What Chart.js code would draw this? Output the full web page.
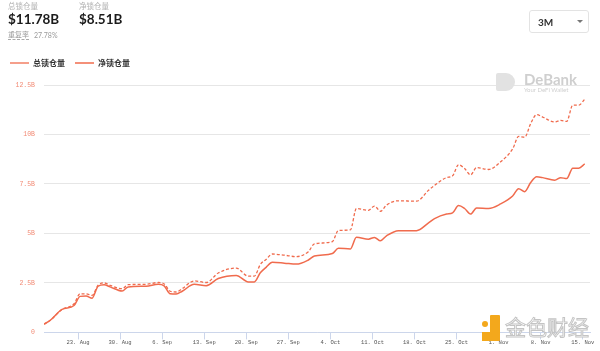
<!DOCTYPE html>
<html>
<head>
<meta charset="utf-8">
<script src="https://cdn.jsdelivr.net/npm/chart.js@4/dist/chart.umd.min.js"></script>
<style>
  html, body { margin: 0; padding: 0; background: #fff; }
  body { width: 600px; height: 351px; position: relative; overflow: hidden; font-family: Lato, "Noto Sans CJK SC", sans-serif; }
  #wrap { position: absolute; left: 0; top: 0; width: 600px; height: 351px; }
  .lbl { position: absolute; font-family: "Noto Sans CJK SC", sans-serif; font-size: 7.5px; color: #b0b0b0; line-height: 1; }
  .val { position: absolute; font-family: Lato, sans-serif; font-weight: 700; font-size: 13.5px; color: #1b1b1b; line-height: 1; }
  .small { position: absolute; font-size: 7px; color: #9a9a9a; line-height: 1; }
  #dd { position: absolute; left: 529px; top: 10px; width: 60px; height: 23px; border: 1px solid #e3e3e3; border-radius: 3px; box-sizing: border-box; }
  #dd span.t { position: absolute; left: 8px; top: 5px; font-family: Lato, sans-serif; font-weight: 700; font-size: 10px; color: #333; }
  #dd span.c { position: absolute; left: 47px; top: 9px; width: 0; height: 0; border-left: 3px solid transparent; border-right: 3px solid transparent; border-top: 3px solid #777; }
  #debank { position: absolute; left: 496px; top: 72px; width: 95px; height: 24px; }
  #debank .icon { position: absolute; left: 0; top: 1px; width: 19px; height: 18px; background: #e2e2e2; border-radius: 2px 9px 9px 2px; }
  #debank .name { position: absolute; left: 28px; top: 0; font-family: Lato, sans-serif; font-weight: 700; font-size: 15px; color: #cfcfcf; line-height: 1; }
  #debank .sub { position: absolute; left: 28px; top: 15px; font-family: Lato, sans-serif; font-size: 6px; color: #cfcfcf; line-height: 1; }
  #jinse { position: absolute; left: 482px; top: 313px; width: 115px; height: 34px; }
  #jinse .i1 { position: absolute; left: 8px; top: 2px; width: 10px; height: 26px; background: #f3a81c; border-radius: 1px; }
  #jinse .i2 { position: absolute; left: 0px; top: 19px; width: 12px; height: 9px; background: #f3a81c; }
  #jinse .i3 { position: absolute; left: 0px; top: 8px; width: 6px; height: 6px; background: #f3a81c; border-radius: 50%; }
  #jinse .tx { position: absolute; left: 23px; top: 3px; font-family: "Noto Sans CJK SC", sans-serif; font-size: 21px; color: rgba(255,255,255,0.85); -webkit-text-stroke: 1px #c4c4c4; line-height: 1; }
</style>
</head>
<body>
<div id="wrap"><canvas id="c" width="600" height="351"></canvas></div>

<div class="lbl" style="left:8px;top:2px;">总锁仓量</div>
<div class="val" style="left:8px;top:13px;" id="v1"></div>
<div class="lbl" style="left:79px;top:2px;">净锁仓量</div>
<div class="val" style="left:79px;top:13px;" id="v2"></div>
<div class="small" style="left:8px;top:31px;font-family:'Noto Sans CJK SC',sans-serif;border-bottom:1px dashed #aaa;padding-bottom:1px;">重复率</div>
<div class="small" style="left:34px;top:32px;font-family:Lato,sans-serif;" id="v3"></div>

<div id="dd"><span class="t">3M</span><span class="c"></span></div>

<div id="debank"><div class="icon"></div><div class="name">DeBank</div><div class="sub">Your DeFi Wallet</div></div>
<div id="jinse"><div class="i1"></div><div class="i2"></div><div class="i3"></div><div class="tx">金色财经</div></div>

<script>
// ---- data (billions USD) ----
const dates = ['08-17','08-18','08-20','08-22','08-23','08-24','08-25','08-26','08-27','08-28','08-30','08-31',
  '09-03','09-05','09-06','09-07','09-08','09-09','09-11','09-13','09-15','09-18','09-20','09-21','09-22','09-23','09-24','09-26','09-28','09-30',
  '10-01','10-04','10-05','10-07','10-08','10-10','10-11','10-12','10-13','10-15','10-18','10-20','10-21','10-23','10-24','10-25','10-26','10-27','10-28','10-30',
  '11-01','11-03','11-04','11-05','11-06','11-07','11-08','11-10','11-11','11-12','11-13','11-14','11-15'];
const totalLocked = [0.42,0.60,1.16,1.45,1.95,1.95,1.87,2.38,2.50,2.38,2.21,2.41,
  2.43,2.52,2.45,2.08,2.04,2.21,2.60,2.52,3.00,3.25,2.84,2.84,3.43,3.70,3.96,3.90,3.83,4.08,
  4.47,4.59,5.15,5.18,6.26,6.17,6.38,6.12,6.43,6.65,6.63,7.18,7.43,7.82,7.91,8.47,8.28,7.96,8.33,8.23,
  8.62,9.27,9.90,9.86,10.55,11.00,10.88,10.63,10.71,10.66,11.48,11.48,11.78];
const netLocked = [0.42,0.60,1.16,1.36,1.82,1.84,1.73,2.33,2.41,2.30,2.09,2.30,
  2.33,2.43,2.35,1.95,1.94,2.08,2.43,2.36,2.72,2.88,2.55,2.55,3.01,3.30,3.54,3.50,3.45,3.66,
  3.86,3.99,4.25,4.22,4.81,4.71,4.80,4.63,4.88,5.14,5.14,5.53,5.75,5.98,6.04,6.41,6.26,5.98,6.29,6.26,
  6.49,6.89,7.26,7.11,7.57,7.86,7.82,7.69,7.82,7.77,8.30,8.30,8.51];
const seriesNames = ['总锁仓量', '净锁仓量'];
const year = 2021;
const xTickDates = ['08-23','08-30','09-06','09-13','09-20','09-27','10-04','10-11','10-18','10-25','11-01','11-08','11-15'];
const yTicks = [0, 2.5, 5, 7.5, 10, 12.5];
const axisEnd = '2021-11-16T05:00:00Z';
const duplicateRate = '27.78%';
const months = ['Jan','Feb','Mar','Apr','May','Jun','Jul','Aug','Sep','Oct','Nov','Dec'];

const ts = d => Date.parse(year + '-' + d + 'T08:00:00Z');
const tickTs = d => Date.parse(year + '-' + d + 'T00:00:00Z');

document.getElementById('v1').textContent = '$' + totalLocked[totalLocked.length-1].toFixed(2) + 'B';
document.getElementById('v2').textContent = '$' + netLocked[netLocked.length-1].toFixed(2) + 'B';
document.getElementById('v3').textContent = duplicateRate;

const color = '#f06b4d';

const legendMargin = {
  id: 'legendMargin',
  beforeInit(chart) {
    const fit = chart.legend.fit;
    chart.legend.fit = function () { fit.bind(this)(); this.height += 8; };
  }
};

new Chart(document.getElementById('c'), {
  type: 'line',
  data: {
    datasets: [
      { label: seriesNames[0], data: dates.map((d, i) => ({ x: ts(d), y: totalLocked[i] })),
        borderColor: color, backgroundColor: color, borderWidth: 1.3, borderDash: [3, 2],
        pointRadius: 0, cubicInterpolationMode: 'monotone', pointStyle: 'line' },
      { label: seriesNames[1], data: dates.map((d, i) => ({ x: ts(d), y: netLocked[i] })),
        borderColor: color, backgroundColor: color, borderWidth: 1.5,
        pointRadius: 0, cubicInterpolationMode: 'monotone', pointStyle: 'line' }
    ]
  },
  options: {
    responsive: false,
    animation: false,
    layout: { padding: { top: 49, left: 0, right: 10, bottom: 5 } },
    plugins: {
      tooltip: { enabled: false },
      legend: {
        position: 'top', align: 'start',
        labels: {
          usePointStyle: true, pointStyle: 'line', pointStyleWidth: 19,
          boxHeight: 8, padding: 10, color: '#333',
          font: { family: '"Noto Sans CJK SC", sans-serif', size: 8, weight: 'bold' }
        }
      }
    },
    scales: {
      x: {
        type: 'linear',
        min: ts(dates[0]),
        max: Date.parse(axisEnd),
        afterBuildTicks: s => { s.ticks = xTickDates.map(d => ({ value: tickTs(d) })); },
        ticks: {
          autoSkip: false, maxRotation: 0, padding: 0, color: '#555',
          font: { family: '"Liberation Mono", monospace', size: 5.5 },
          callback: v => { const dt = new Date(v); return dt.getUTCDate() + '. ' + months[dt.getUTCMonth()]; }
        },
        grid: { display: true, drawOnChartArea: false, drawTicks: true, tickLength: 7, color: '#ccd6eb' },
        border: { display: true, color: '#ccd6eb' }
      },
      y: {
        min: 0, max: 12.5,
        afterBuildTicks: s => { s.ticks = yTicks.map(v => ({ value: v })); },
        afterFit: s => { s.width = 44; },
        ticks: {
          padding: 9, color: '#f28a74',
          font: { family: '"Liberation Mono", monospace', size: 6.5 },
          callback: v => v === 0 ? '0' : v + 'B'
        },
        grid: { color: '#e6e6e6', drawTicks: false },
        border: { display: false }
      }
    }
  },
  plugins: [legendMargin]
});
</script>
</body>
</html>
